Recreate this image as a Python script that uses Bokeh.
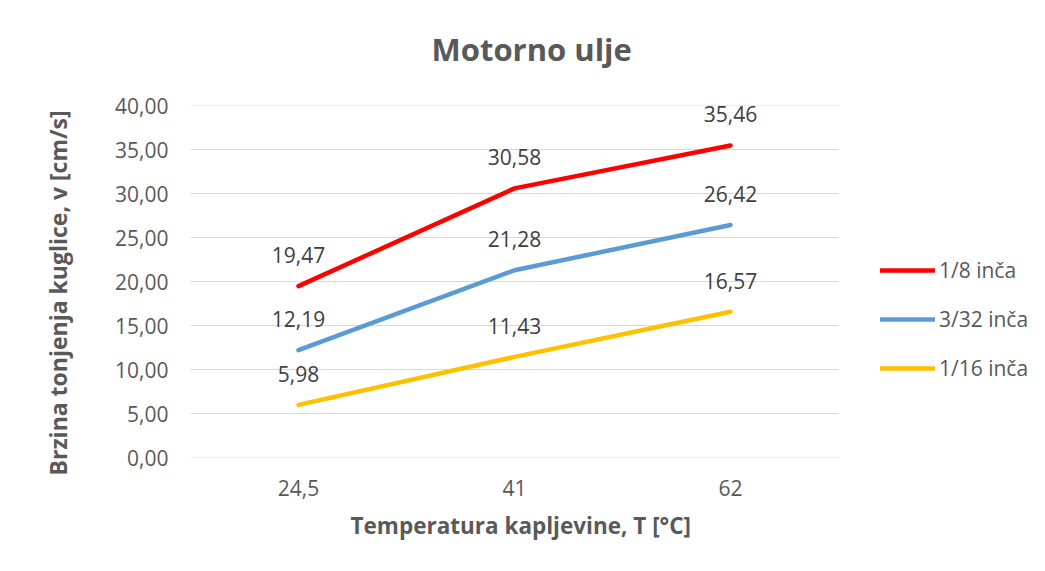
from bokeh.plotting import figure
from bokeh.models import Legend, LegendItem, CustomJSTickFormatter, FixedTicker, ColumnDataSource, Range1d, Title
from bokeh.core.properties import value
from bokeh.embed import file_html
from bokeh.resources import INLINE

temps = ["24,5", "41", "62"]
s_18 = [19.47, 30.58, 35.46]
s_332 = [12.19, 21.28, 26.42]
s_116 = [5.98, 11.43, 16.57]
names = ["1/8 inča", "3/32 inča", "1/16 inča"]
colors = ["#FF0000", "#5B9BD5", "#FFC000"]
y_ticks = [0, 5, 10, 15, 20, 25, 30, 35, 40]

FONT = "Open Sans"
TXT = "#595959"

W, H = 1045, 571
LEFT, RIGHT, TOP, BOTTOM = 190, 8, 105, 114
CAT_PX = 216  # pixel width of one category band
frame_w = W - LEFT - RIGHT
xpos = [i + 0.5 for i in range(len(temps))]

p = figure(width=W, height=H, x_range=Range1d(0, frame_w / CAT_PX), y_range=(0, 40),
           output_backend="svg", toolbar_location=None,
           min_border_left=LEFT, min_border_right=RIGHT, min_border_top=TOP, min_border_bottom=BOTTOM)
p.outline_line_color = None
p.background_fill_color = "white"
p.border_fill_color = "white"

p.title.text = "Motorno ulje"
p.title.text_font = FONT
p.title.text_font_size = "31px"
p.title.text_font_style = "bold"
p.title.text_color = TXT
p.title.align = "left"
p.title.offset = 241
p.title.standoff = 0

# blank spacer between the frame and the title
spacer = Title(text=" ", text_font_size="10px", standoff=23)
p.add_layout(spacer, "above")

p.xgrid.grid_line_color = None
p.ygrid.grid_line_color = None
# horizontal gridlines spanning only the category area
p.segment(x0=0, x1=len(temps), y0=y_ticks, y1=y_ticks, line_color="#D9D9D9", line_width=1)

p.yaxis.ticker = FixedTicker(ticks=y_ticks)
p.yaxis.formatter = CustomJSTickFormatter(code="return tick.toFixed(2).replace('.', ',');")
p.xaxis.ticker = FixedTicker(ticks=xpos)
p.xaxis.formatter = CustomJSTickFormatter(args=dict(labels=temps),
                                          code="return labels[Math.floor(tick)];")
for ax in (p.xaxis[0], p.yaxis[0]):
    ax.axis_line_color = None
    ax.major_tick_line_color = None
    ax.minor_tick_line_color = None
    ax.major_tick_in = 0
    ax.major_tick_out = 0
    ax.major_label_text_font = FONT
    ax.major_label_text_font_size = "21px"
    ax.major_label_text_color = TXT
p.yaxis.major_label_standoff = 22
p.xaxis.major_label_standoff = 22

xlab = Title(text="Temperatura kapljevine, T [°C]", align="left", offset=160, standoff=18,
             text_font=FONT, text_font_size="22.5px", text_font_style="bold", text_color=TXT)
p.add_layout(xlab, "below")
ylab = Title(text="Brzina tonjenja kuglice, v [cm/s]", align="left", offset=-18, standoff=78,
             text_font=FONT, text_font_size="23px", text_font_style="bold", text_color=TXT)
p.add_layout(ylab, "left")

items = []
for name, vals, col in zip(names, [s_18, s_332, s_116], colors):
    src = ColumnDataSource(dict(x=xpos, y=vals, lab=[f"{v:.2f}".replace(".", ",") for v in vals]))
    r = p.line("x", "y", source=src, line_color=col, line_width=4.5, line_cap="round", line_join="round")
    p.text("x", "y", text="lab", source=src, text_align="center", text_baseline="middle",
           y_offset=-31, text_font=value(FONT), text_font_size="21px", text_color="#404040")
    items.append(LegendItem(label=name, renderers=[r]))

legend = Legend(items=items, location=(690, 75), padding=0, margin=0,
                border_line_color=None, background_fill_alpha=0,
                glyph_width=55, glyph_height=24, label_height=24, spacing=21,
                label_standoff=4, label_text_font=FONT, label_text_font_size="21px",
                label_text_color=TXT)
p.add_layout(legend, "center")

open("out.html", "w").write(file_html(p, INLINE))
